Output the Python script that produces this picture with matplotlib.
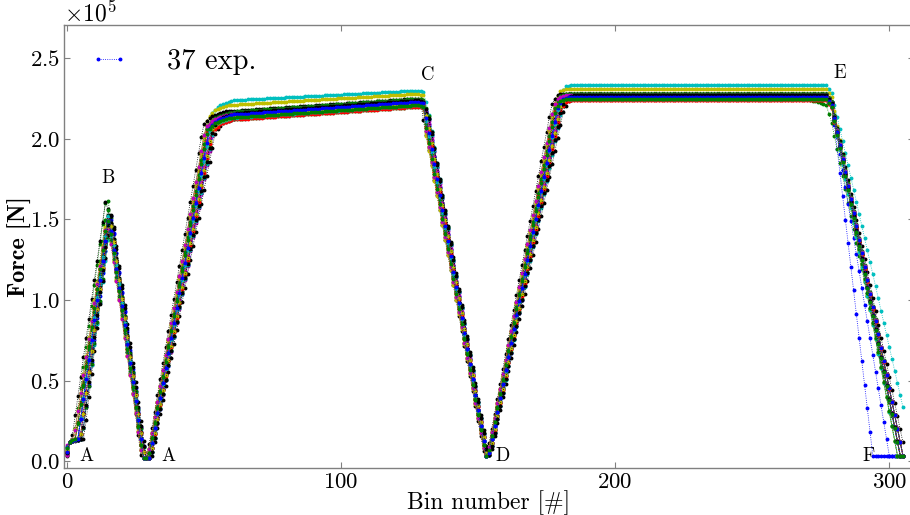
import numpy as np
import matplotlib
matplotlib.use("Agg")
import matplotlib.pyplot as plt

plt.rcParams.update({
    "font.family": "cmr10",
    "mathtext.fontset": "cm",
    "axes.formatter.use_mathtext": True,
    "axes.unicode_minus": False,
})

# Bin numbers of every recorded experiment
bins = np.arange(0, 306)

# Per-experiment readings (force in units of 1e5 N)
start_force = [0.06, 0.04, 0.08, 0.05, 0.10, 0.07, 0.03, 0.06, 0.09, 0.05,
               0.07, 0.04, 0.08, 0.06, 0.05, 0.09, 0.07, 0.04, 0.06, 0.08,
               0.05, 0.07, 0.06, 0.04, 0.08, 0.05, 0.07, 0.06, 0.09, 0.05,
               0.06, 0.08, 0.04, 0.07, 0.05, 0.06, 0.08]
peak_b = [1.56, 1.65, 1.50, 1.47, 1.49, 1.51, 1.62, 1.52, 1.58, 1.48,
          1.50, 1.46, 1.49, 1.53, 1.50, 1.47, 1.51, 1.45, 1.48, 1.50,
          1.52, 1.49, 1.47, 1.51, 1.46, 1.50, 1.48, 1.53, 1.49, 1.47,
          1.50, 1.52, 1.48, 1.50, 1.55, 1.49, 1.51]
plateau1_start = [2.16, 2.15, 2.13, 2.24, 2.14, 2.21, 2.17, 2.15, 2.16, 2.13,
                  2.15, 2.14, 2.12, 2.16, 2.15, 2.14, 2.13, 2.15, 2.16, 2.14,
                  2.13, 2.15, 2.17, 2.14, 2.12, 2.16, 2.15, 2.13, 2.14, 2.16,
                  2.12, 2.13, 2.15, 2.14, 2.16, 2.15, 2.13]
plateau1_end = [2.24, 2.23, 2.21, 2.30, 2.22, 2.28, 2.25, 2.23, 2.24, 2.21,
                2.23, 2.22, 2.20, 2.24, 2.23, 2.22, 2.21, 2.23, 2.24, 2.22,
                2.21, 2.23, 2.25, 2.22, 2.20, 2.24, 2.23, 2.21, 2.22, 2.24,
                2.20, 2.21, 2.23, 2.22, 2.24, 2.23, 2.21]
plateau2 = [2.28, 2.27, 2.25, 2.335, 2.26, 2.31, 2.28, 2.27, 2.28, 2.24,
            2.26, 2.27, 2.25, 2.28, 2.27, 2.26, 2.25, 2.26, 2.27, 2.26,
            2.25, 2.26, 2.28, 2.26, 2.25, 2.27, 2.26, 2.25, 2.26, 2.28,
            2.24, 2.25, 2.27, 2.26, 2.27, 2.26, 2.25]
plateau2_sag = [0.0, 0.12, 0.0, 0.0, 0.0, 0.0, 0.0, 0.0, 0.0, 0.0,
                0.0, 0.0, 0.0, 0.0, 0.0, 0.0, 0.0, 0.0, 0.0, 0.0,
                0.0, 0.0, 0.0, 0.0, 0.0, 0.0, 0.0, 0.0, 0.0, 0.0,
                0.0, 0.0, 0.0, 0.0, 0.0, 0.0, 0.0]
bin_shift = [0.8, -1.5, 0.0, 0.8, 0.0, -0.8, -2.2, 1.5, -0.8, 0.0,
             0.8, 1.5, -1.5, 0.0, 0.8, 0.0, -0.8, 1.5, 0.0, -1.5,
             0.8, 0.0, 1.5, -0.8, 0.0, 0.8, -1.5, 2.2, 0.0, -0.8,
             0.8, 0.0, -1.5, 0.8, 1.5, 0.0, -0.8]
unload_end = [294, 304, 304, 309, 305, 304, 303, 300, 304, 305,
              304, 305, 303, 306, 304, 305, 304, 305, 304, 303,
              305, 304, 305, 304, 303, 305, 304, 305, 304, 303,
              305, 304, 304, 305, 304, 305, 304]

colors = ["b", "g", "r", "c", "m", "y", "k"]

point_labels = ["A", "B", "A", "C", "D", "E", "F"]
label_x = [7, 15, 37, 131.5, 159, 282, 292.3]
label_y = [0.03, 1.755, 0.03, 2.395, 0.03, 2.41, 0.035]

fig = plt.figure(figsize=(9.1, 5.15), dpi=100)
ax = fig.add_axes([0.0703, 0.091, 0.934, 0.860])

for i in range(len(peak_b)):
    l2 = plateau2[i]
    s = bin_shift[i]
    kx = [0, 1, 4 + s, 15 + s * 0.4, 16 + s * 0.4, 28 + s * 0.4, 30 + s * 0.4,
          52 + s, 55 + s, 60 + s, 128, 130, 131 + s * 0.6, 153 + s * 0.3,
          154 + s * 0.3, 179 + s, 181 + s, 183 + s, 266, 277, 279,
          unload_end[i]]
    ky = [start_force[i], 0.12, 0.14, peak_b[i], peak_b[i] - 0.06, 0.02, 0.02,
          plateau1_start[i] - 0.08, plateau1_start[i] - 0.03, plateau1_start[i],
          plateau1_end[i], plateau1_end[i] - 0.01, plateau1_end[i] - 0.10,
          0.03, 0.05, l2 - 0.07, l2 - 0.01, l2, l2,
          l2 - plateau2_sag[i] * 0.5, l2 - 0.05 - plateau2_sag[i], 0.035]
    force = np.interp(bins, kx, ky) * 1e5
    ax.plot(bins, force, linestyle=":", linewidth=0.6, marker=".",
            markersize=3.6, color=colors[i % len(colors)],
            label="37 exp." if i == 0 else None)

for lab, x, y in zip(point_labels, label_x, label_y):
    ax.text(x, y * 1e5, lab, fontsize=13.5, ha="center", va="center")

ax.set_xlim(-1.1, 309)
ax.set_ylim(-4300, 270500)
ax.set_xticks([0, 100, 200, 300])
ax.set_yticks([0, 50000, 100000, 150000, 200000, 250000])
ax.ticklabel_format(axis="y", style="sci", scilimits=(0, 0))
ax.yaxis.get_offset_text().set_fontsize(17)
ax.tick_params(direction="in", labelsize=16.5, colors="#808080",
               labelcolor="black", length=4, width=0.8, top=True, right=True,
               pad=3)
for sp in ax.spines.values():
    sp.set_color("#808080")
    sp.set_linewidth(1.0)

ax.set_xlabel("Bin number [#]", fontsize=17, labelpad=-1)
ax.set_ylabel("Force [N]", fontsize=17.5, family="cmb10", labelpad=-1.5)

leg = ax.legend(loc="upper left", bbox_to_anchor=(0.016, 0.972),
                frameon=False, fontsize=20.5, numpoints=2,
                handlelength=1.4, handletextpad=1.35, borderaxespad=0.0)

fig.savefig("out.png", dpi=100)
